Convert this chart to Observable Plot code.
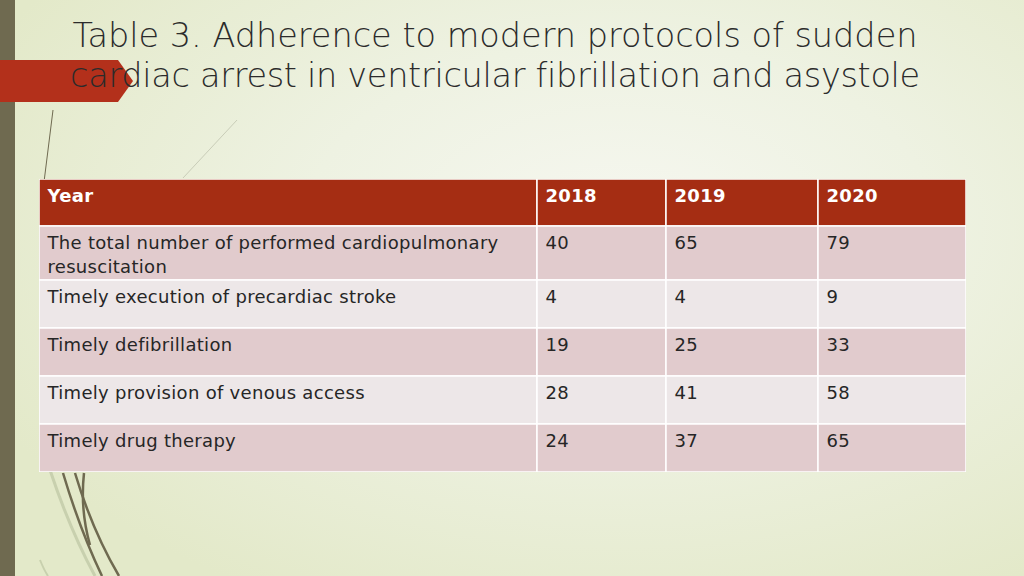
<!DOCTYPE html>
<html>
<head>
<meta charset="utf-8">
<script src="https://cdn.jsdelivr.net/npm/d3@7"></script>
<script src="https://cdn.jsdelivr.net/npm/@observablehq/plot@0.6"></script>
<style>
  html, body { margin: 0; padding: 0; }
  #slide {
    position: relative; width: 1024px; height: 576px; overflow: hidden;
    background: radial-gradient(ellipse 700px 420px at 620px 230px, #f6f7f0 0%, #eef2e2 45%, #e3e9c9 100%);
    font-family: "DejaVu Sans", sans-serif;
  }
  #deco { position: absolute; left: 0; top: 0; }
  #title {
    position: absolute; left: 40px; top: 16px; width: 910px;
    text-align: center; font-size: 33.5px; line-height: 40px; color: #2b2b2b;
    font-family: "DejaVu Sans", sans-serif; font-weight: 300;
  }
  #title .l2 { letter-spacing: -0.3px; }
  #table { position: absolute; left: 39px; top: 179px; }
  #table svg text { letter-spacing: 0.3px; }
</style>
</head>
<body>
<div id="slide">
  <svg id="deco" width="1024" height="576">
    <rect x="0" y="0" width="15" height="576" fill="#6f6a50"/>
    <path d="M53,110 L44,182" stroke="#6f6a50" stroke-width="1" fill="none"/>
    <path d="M237,120 L183,178" stroke="#c9cdb8" stroke-width="1" fill="none"/>
    <path d="M50,470 Q70,530 95,576" stroke="#c8d0ae" stroke-width="3" fill="none"/>
    <path d="M63,473 Q80,530 102,576" stroke="#6f6a50" stroke-width="2.5" fill="none"/>
    <path d="M75,473 Q92,530 119,576" stroke="#6f6a50" stroke-width="2.5" fill="none"/>
    <path d="M84,473 Q80,510 90,545" stroke="#6f6a50" stroke-width="2.5" fill="none"/>
    <path d="M40,560 Q44,570 48,576" stroke="#c8d0ae" stroke-width="2" fill="none"/>
    <polygon points="0,60 118,60 133,81 118,102 0,102" fill="#b3301b"/>
  </svg>
  <div id="title">Table 3. Adherence to modern protocols of sudden<br><span class="l2">cardiac arrest in ventricular fibrillation and asystole</span></div>
  <div id="table"></div>
</div>
<script>
// ---- data ----
const headerLabel = "Year";
const years = ["2018", "2019", "2020"];
const indicators = [
  "The total number of performed cardiopulmonary resuscitation",
  "Timely execution of precardiac stroke",
  "Timely defibrillation",
  "Timely provision of venous access",
  "Timely drug therapy"
];
const values2018 = [40, 4, 19, 28, 24];
const values2019 = [65, 4, 25, 41, 37];
const values2020 = [79, 9, 33, 58, 65];

// ---- layout (pixels) ----
const colWidths = [498, 129, 152, 148];
const rowHeights = [47, 54, 48, 48, 48, 48];
const colEdges = [0, ...d3.cumsum(colWidths)];
const rowEdges = [0, ...d3.cumsum(rowHeights)];
const W = colEdges[colEdges.length - 1];
const H = rowEdges[rowEdges.length - 1];
const FS = 18;

// build table cells
const seriesByYear = [values2018, values2019, values2020];
const rows = [[headerLabel, ...years]];
indicators.forEach((name, i) => rows.push([name, ...seriesByYear.map(s => String(s[i]))]));
const cells = [];
rows.forEach((row, r) => row.forEach((text, c) => cells.push({r, c, text})));
const headCells = cells.filter(d => d.r === 0);
const bodyCells = cells.filter(d => d.r > 0);

const fillFor = r => r === 0 ? "#a52d13" : (r % 2 === 1 ? "#e1cbcd" : "#ede7e8");

const textOpts = {
  x: d => colEdges[d.c] + 8,
  text: "text",
  textAnchor: "start", lineAnchor: "top",
  lineWidth: (colWidths[0] - 16) / FS, lineHeight: 1.3,
  fontSize: FS,
  fontFamily: "DejaVu Sans"
};

const chart = Plot.plot({
  width: W, height: H,
  margin: 0,
  x: {domain: [0, W], range: [0, W], axis: null},
  y: {domain: [0, H], range: [0, H], axis: null},
  marks: [
    Plot.rect(cells, {
      x1: d => colEdges[d.c], x2: d => colEdges[d.c + 1],
      y1: d => rowEdges[d.r], y2: d => rowEdges[d.r + 1],
      fill: d => fillFor(d.r), stroke: "#ffffff", strokeWidth: 1.5
    }),
    Plot.text(headCells, {
      ...textOpts,
      y: d => rowEdges[d.r] + 6,
      fontWeight: "bold", fill: "#ffffff"
    }),
    Plot.text(bodyCells, {
      ...textOpts,
      y: d => rowEdges[d.r] + 6,
      fontWeight: "normal", fill: "#262626"
    })
  ]
});
document.getElementById("table").appendChild(chart);
</script>
</body>
</html>
